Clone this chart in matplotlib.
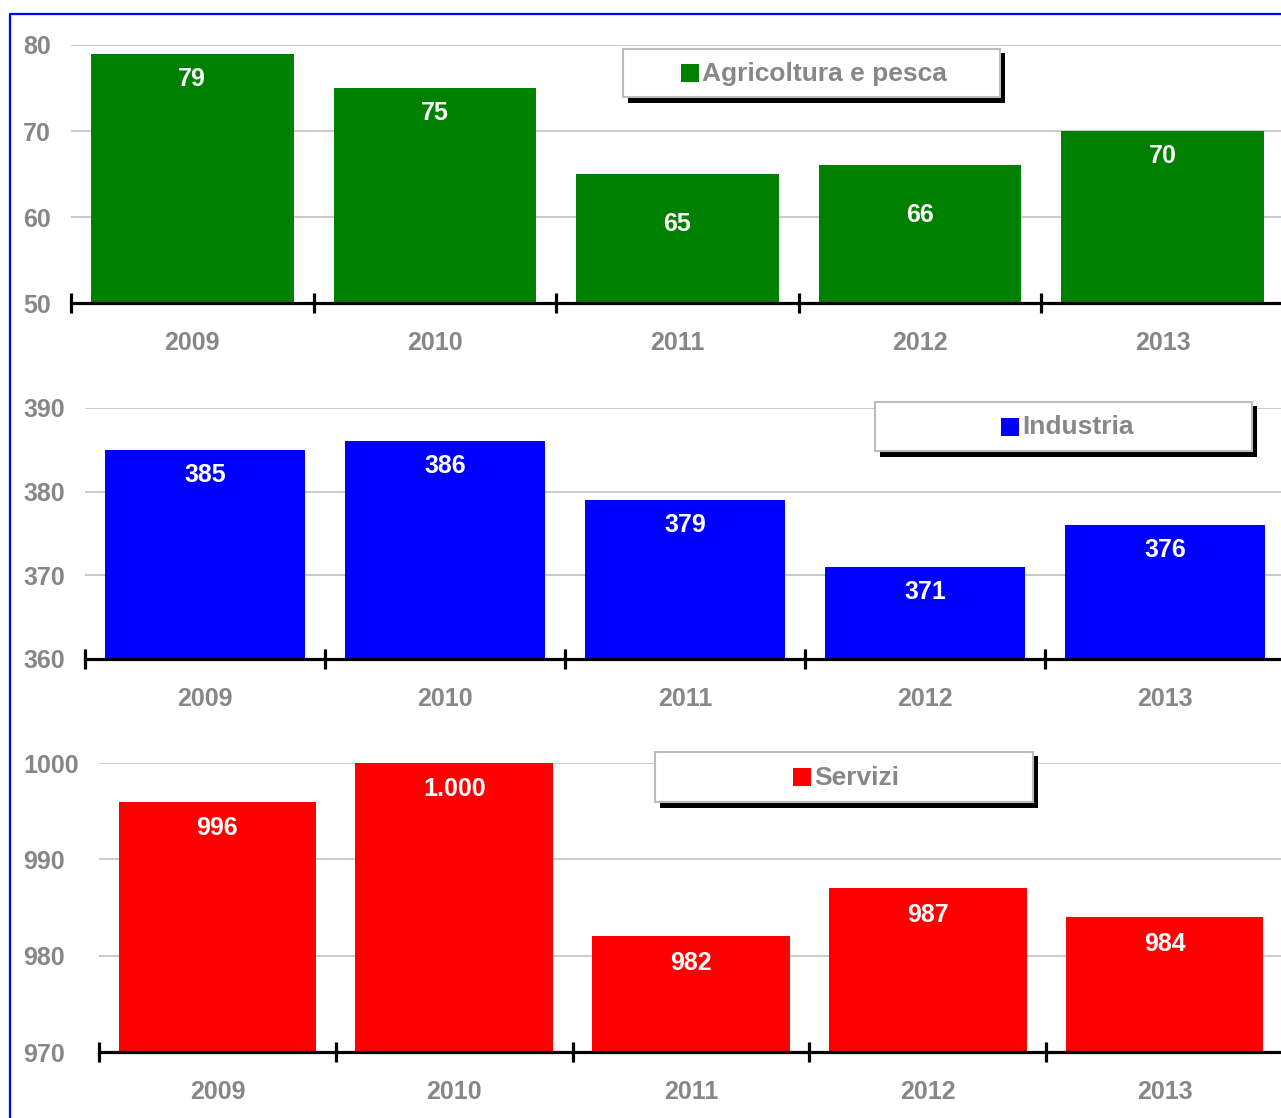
import numpy as np
import matplotlib.pyplot as plt
from matplotlib.patches import Rectangle
from matplotlib.lines import Line2D

plt.rcParams['font.family'] = ['Liberation Sans', 'DejaVu Sans']
plt.rcParams['font.weight'] = 'bold'

years = ['2009', '2010', '2011', '2012', '2013']
agricoltura = [79, 75, 65, 66, 70]
industria = [385, 386, 379, 371, 376]
servizi = [996, 1000, 982, 987, 984]

W, H = 1281, 1118
GRAY = '#878787'
FS = 18

fig = plt.figure(figsize=(W / 100, H / 100), dpi=100)


def fx(px):
    return px / W


def fy(py):
    return 1 - py / H


# frame around the whole chart (only left and top edges fall inside the image)
fig.add_artist(Line2D([fx(10), fx(10), fx(1300)], [fy(1130), fy(14), fy(14)],
                      transform=fig.transFigure, color='#0000ff', lw=1.6))

panels = [
    # values, colour, name, (ymin, ymax, step), axes box px, legend box px, legend square x, label offsets
    (agricoltura, '#008000', 'Agricoltura e pesca', (50, 80, 10),
     (71, 45, 1284, 303), (623, 49, 1000, 97), 681, [-18, -18, -36, -36, -18]),
    (industria, '#0000ff', 'Industria', (360, 390, 10),
     (85, 408, 1285, 659), (875, 402, 1252, 451), 1001, [-18] * 5),
    (servizi, '#ff0000', 'Servizi', (970, 1000, 10),
     (99, 763, 1283, 1052), (655, 752, 1033, 802), 793, [-19] * 5),
]

for values, color, name, (lo, hi, step), (l, t, r, b), (bl, bt, br, bb), sq_x, offs in panels:
    ax = fig.add_axes([fx(l), fy(b), (r - l) / W, (b - t) / H])
    x = np.arange(len(years))
    ax.bar(x, values, width=0.835, color=color, zorder=2)
    ax.set_xlim(-0.5, len(years) - 0.5)
    ax.set_ylim(lo, hi)

    ax.set_yticks(np.arange(lo, hi + 1, step))
    ax.yaxis.grid(True, color='#c6c6c6', lw=1.3, zorder=0)
    ax.set_axisbelow(True)
    ax.tick_params(axis='y', length=0, pad=(l - 23) * 0.72,
                   labelsize=FS, labelcolor=GRAY)
    plt.setp(ax.get_yticklabels(), ha='left')

    for side in ['left', 'right', 'top']:
        ax.spines[side].set_visible(False)
    ax.spines['bottom'].set_linewidth(2.3)
    ax.spines['bottom'].set_zorder(3)

    # category boundary ticks and centred year labels
    ax.set_xticks(np.arange(-0.5, len(years), 1))
    ax.set_xticklabels([])
    ax.tick_params(axis='x', which='major', direction='inout', length=14, width=2.3)
    ax.set_xticks(x, minor=True)
    ax.set_xticklabels(years, minor=True)
    ax.tick_params(axis='x', which='minor', length=0, pad=20,
                   labelsize=FS, labelcolor=GRAY)

    for i, v in enumerate(values):
        lab = f'{v:,}'.replace(',', '.')
        ax.annotate(lab, (i, v), xytext=(0, offs[i]), textcoords='offset points',
                    ha='center', va='center', color='white',
                    fontsize=FS, fontweight='bold', zorder=4)

    # legend box with drop shadow
    fig.add_artist(Rectangle((fx(bl + 5), fy(bb + 6)), (br - bl) / W, (bb - bt + 2) / H,
                             transform=fig.transFigure, facecolor='black',
                             edgecolor='none', zorder=5))
    fig.add_artist(Rectangle((fx(bl), fy(bb)), (br - bl) / W, (bb - bt) / H,
                             transform=fig.transFigure, facecolor='white',
                             edgecolor='#bdbdbd', lw=1.5, zorder=6))
    cy = (bt + bb) / 2
    fig.add_artist(Rectangle((fx(sq_x), fy(cy + 9)), 18 / W, 18 / H,
                             transform=fig.transFigure, facecolor=color,
                             edgecolor='none', zorder=7))
    fig.text(fx(sq_x + 21), fy(cy + 1), name, ha='left', va='center',
             fontsize=19, fontweight='bold', color=GRAY, zorder=7)

fig.savefig('out.png', dpi=100)
